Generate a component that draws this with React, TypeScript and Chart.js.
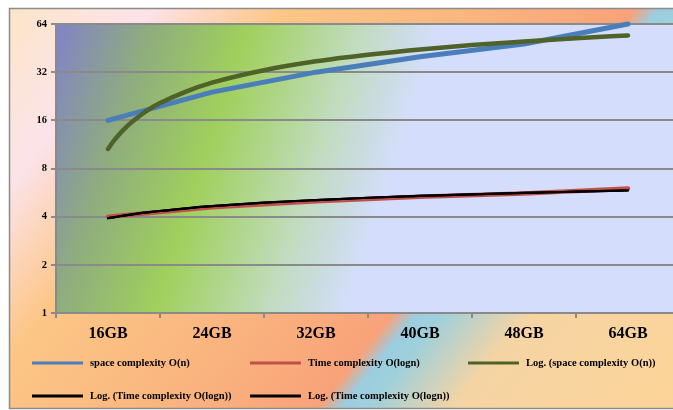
import React, { useEffect, useRef } from "react";
import { Chart, registerables } from "chart.js";

Chart.register(...registerables);

// Memory sizes along the category axis
const categories = ["16GB", "24GB", "32GB", "40GB", "48GB", "64GB"];

// Measured series
const spaceComplexity = [16, 24, 32, 40, 48, 64];
const timeComplexity = [4, 4.58, 5, 5.32, 5.58, 6];

// Logarithmic trend lines (positions on the category index, 1 = 16GB)
const trendX = [1, 1.05, 1.1, 1.15, 1.25, 1.375, 1.5, 1.75, 2, 2.5, 3, 3.5, 4, 4.5, 5, 5.5, 6];
const spaceTrend = [10.6, 11.8, 12.9, 14.0, 16.0, 18.4, 20.5, 24.2, 27.5, 32.9, 37.4, 41.1, 44.4, 47.3, 49.8, 52.2, 54.3];
const timeTrend = [3.91, 3.96, 4.01, 4.06, 4.15, 4.25, 4.34, 4.51, 4.65, 4.89, 5.08, 5.25, 5.39, 5.52, 5.63, 5.73, 5.83];

// Power-of-two ticks on the value axis
const yTicks = [1, 2, 4, 8, 16, 32, 64];

const SERIF = "'Liberation Serif', 'Times New Roman', serif";

const toPoints = (xs: number[], ys: number[]) => xs.map((x, i) => ({ x, y: ys[i] }));

// Paints the outer chart background, its frame and the plot-area fill
const backgroundPlugin = {
  id: "backgrounds",
  beforeDraw(chart: any) {
    const { ctx, width, height, chartArea } = chart;
    ctx.save();
    ctx.fillStyle = "#ffffff";
    ctx.fillRect(0, 0, width, height);

    // outer area, diagonal multi-stop fill
    const ox = 10, oy = 9;
    const len = 767;
    const og = ctx.createLinearGradient(ox, oy, ox + 0.78 * len, oy + 0.62 * len);
    og.addColorStop(0.0, "#fbe6c8");
    og.addColorStop(0.143, "#fce3ea");
    og.addColorStop(0.283, "#fcc686");
    og.addColorStop(0.45, "#fab880");
    og.addColorStop(0.61, "#f9a67a");
    og.addColorStop(0.64, "#f8a27a");
    og.addColorStop(0.665, "#9ccde0");
    og.addColorStop(0.69, "#9ed0dc");
    og.addColorStop(0.78, "#f5d4a4");
    og.addColorStop(1.0, "#fcd498");
    ctx.fillStyle = og;
    ctx.fillRect(ox, oy, width - ox, 408 - oy);
    ctx.strokeStyle = "#8c8c8c";
    ctx.lineWidth = 1.5;
    ctx.strokeRect(9.5, 8.5, width + 20, 400);

    // plot area fill
    const { left, top, right, bottom } = chartArea;
    const plen = 366;
    const pg = ctx.createLinearGradient(left, top, left + 0.95 * plen, top + 0.31 * plen);
    pg.addColorStop(0.0, "#8282c8");
    pg.addColorStop(0.25, "#8fad7e");
    pg.addColorStop(0.5, "#a0d05c");
    pg.addColorStop(0.65, "#b0d68c");
    pg.addColorStop(0.8, "#c2dcc0");
    pg.addColorStop(0.9, "#cadcde");
    pg.addColorStop(1.0, "#d4defc");
    ctx.fillStyle = pg;
    ctx.fillRect(left, top, right - left, bottom - top);
    ctx.restore();
  },
};

// Three-column legend grid under the axis
const legendPlugin = {
  id: "gridLegend",
  afterDraw(chart: any) {
    const { ctx } = chart;
    const cols = [32, 250, 468];
    const rows = [363, 396];
    ctx.save();
    ctx.font = `bold 10.5px ${SERIF}`;
    ctx.textBaseline = "middle";
    ctx.fillStyle = "#000";
    chart.data.datasets.forEach((ds: any, i: number) => {
      const x = cols[i % 3];
      const y = rows[Math.floor(i / 3)];
      ctx.strokeStyle = ds.borderColor;
      ctx.lineWidth = 3;
      ctx.lineCap = "butt";
      ctx.beginPath();
      ctx.moveTo(x, y);
      ctx.lineTo(x + 51, y);
      ctx.stroke();
      ctx.fillText(ds.label, x + 58, y);
    });
    ctx.restore();
  },
};

export default function App() {
  const ref = useRef<HTMLCanvasElement>(null);

  useEffect(() => {
    if (!ref.current) return;
    const lineBase = {
      pointRadius: 0,
      pointHoverRadius: 0,
      borderCapStyle: "round" as const,
      borderJoinStyle: "round" as const,
      fill: false,
      clip: false as const,
    };
    const chart = new Chart(ref.current, {
      type: "line",
      data: {
        labels: categories,
        datasets: [
          {
            ...lineBase,
            label: "space complexity O(n)",
            data: spaceComplexity,
            borderColor: "#4a7ebb",
            borderWidth: 5,
            xAxisID: "x",
            order: 4,
          },
          {
            ...lineBase,
            label: "Time complexity O(logn)",
            data: timeComplexity,
            borderColor: "#c0504d",
            borderWidth: 4.5,
            xAxisID: "x",
            order: 3,
          },
          {
            ...lineBase,
            label: "Log. (space complexity O(n))",
            data: toPoints(trendX, spaceTrend),
            borderColor: "#4f6228",
            borderWidth: 4.5,
            cubicInterpolationMode: "monotone",
            xAxisID: "x2",
            order: 2,
          },
          {
            ...lineBase,
            label: "Log. (Time complexity O(logn))",
            data: toPoints(trendX, timeTrend),
            borderColor: "#000000",
            borderWidth: 2.2,
            cubicInterpolationMode: "monotone",
            xAxisID: "x2",
            order: 1,
          },
          {
            ...lineBase,
            label: "Log. (Time complexity O(logn))",
            data: toPoints(trendX, timeTrend),
            borderColor: "#000000",
            borderWidth: 2.2,
            cubicInterpolationMode: "monotone",
            xAxisID: "x2",
            order: 0,
          },
        ],
      },
      options: {
        responsive: false,
        animation: false,
        events: [],
        layout: { padding: { top: 24, left: 0, right: 20, bottom: 0 } },
        plugins: {
          legend: { display: false },
          tooltip: { enabled: false },
        },
        scales: {
          x: {
            type: "category",
            offset: true,
            grid: {
              offset: true,
              drawOnChartArea: false,
              drawTicks: true,
              tickLength: 5,
              color: "#8a8a8a",
              lineWidth: 2,
            },
            border: { color: "#8a8a8a", width: 2 },
            ticks: {
              color: "#000",
              padding: 6,
              maxRotation: 0,
              font: { family: SERIF, size: 16, weight: "bold" },
            },
            afterFit(scale: any) {
              scale.height = 107;
            },
          },
          x2: {
            type: "linear",
            display: false,
            min: 0.5,
            max: 6.5,
          },
          y: {
            type: "logarithmic",
            min: 1,
            max: 64,
            afterBuildTicks(scale: any) {
              scale.ticks = yTicks.map((v) => ({ value: v }));
            },
            grid: {
              color: "#8a8a8a",
              lineWidth: 2,
              tickLength: 5,
            },
            border: { color: "#8a8a8a", width: 2 },
            ticks: {
              color: "#000",
              padding: 4,
              autoSkip: false,
              font: { family: SERIF, size: 10.5, weight: "bold" },
              callback: (v: any) => String(v),
            },
            afterFit(scale: any) {
              scale.width = 56;
            },
          },
        },
      },
      plugins: [backgroundPlugin, legendPlugin],
    } as any);
    return () => chart.destroy();
  }, []);

  return (
    <div
      style={{
        position: "fixed",
        left: 0,
        top: 0,
        width: 673,
        height: 410,
        overflow: "hidden",
        background: "#fff",
      }}
    >
      <canvas ref={ref} width={700} height={420} style={{ display: "block", width: 700, height: 420 }} />
    </div>
  );
}
